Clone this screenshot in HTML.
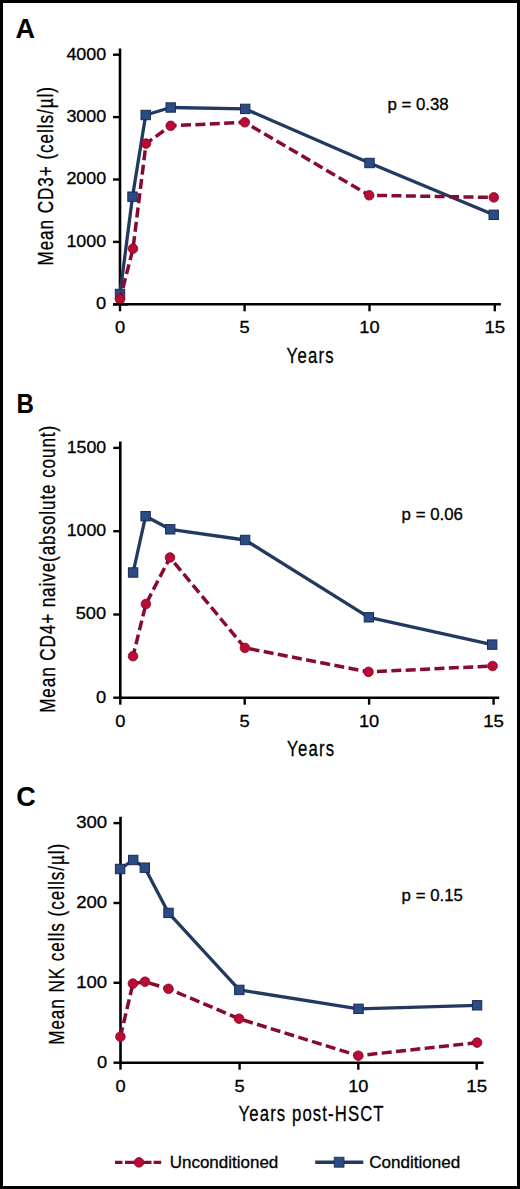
<!DOCTYPE html>
<html><head><meta charset="utf-8"><style>
html,body{margin:0;padding:0;background:#fff;}
.frame{position:absolute;left:0;top:0;width:520px;height:1189px;box-sizing:border-box;border:3px solid #000;background:#fff;}
svg{position:absolute;left:0;top:0;}
text{font-family:"Liberation Sans", sans-serif;fill:#000;stroke:#000;stroke-width:0.3px;}
text[font-weight="bold"]{stroke:none;}
</style></head><body>
<div class="frame"></div>
<svg width="520" height="1189" viewBox="0 0 520 1189">
<text x="15.5" y="37.6" font-size="27" font-weight="bold" text-anchor="start" >A</text>
<path d="M120 48.5 V304.3 H500.9" fill="none" stroke="#000" stroke-width="2.6"/>
<line x1="113" y1="54.7" x2="120" y2="54.7" stroke="#000" stroke-width="2.4"/>
<text x="106.2" y="59.6" font-size="16.8" font-weight="normal" text-anchor="end" textLength="39.8" lengthAdjust="spacingAndGlyphs" >4000</text>
<line x1="113" y1="117.1" x2="120" y2="117.1" stroke="#000" stroke-width="2.4"/>
<text x="106.2" y="122.0" font-size="16.8" font-weight="normal" text-anchor="end" textLength="39.8" lengthAdjust="spacingAndGlyphs" >3000</text>
<line x1="113" y1="179.5" x2="120" y2="179.5" stroke="#000" stroke-width="2.4"/>
<text x="106.2" y="184.4" font-size="16.8" font-weight="normal" text-anchor="end" textLength="39.8" lengthAdjust="spacingAndGlyphs" >2000</text>
<line x1="113" y1="241.9" x2="120" y2="241.9" stroke="#000" stroke-width="2.4"/>
<text x="106.2" y="246.8" font-size="16.8" font-weight="normal" text-anchor="end" textLength="39.8" lengthAdjust="spacingAndGlyphs" >1000</text>
<line x1="113" y1="304.3" x2="120" y2="304.3" stroke="#000" stroke-width="2.4"/>
<text x="106.2" y="309.2" font-size="16.8" font-weight="normal" text-anchor="end" textLength="10.2" lengthAdjust="spacingAndGlyphs" >0</text>
<line x1="120" y1="304.3" x2="120" y2="311.3" stroke="#000" stroke-width="2.4"/>
<text x="120" y="333.3" font-size="16.8" font-weight="normal" text-anchor="middle" textLength="10.2" lengthAdjust="spacingAndGlyphs" >0</text>
<line x1="244.6" y1="304.3" x2="244.6" y2="311.3" stroke="#000" stroke-width="2.4"/>
<text x="244.6" y="333.3" font-size="16.8" font-weight="normal" text-anchor="middle" textLength="10.2" lengthAdjust="spacingAndGlyphs" >5</text>
<line x1="369.5" y1="304.3" x2="369.5" y2="311.3" stroke="#000" stroke-width="2.4"/>
<text x="369.5" y="333.3" font-size="16.8" font-weight="normal" text-anchor="middle" textLength="20.3" lengthAdjust="spacingAndGlyphs" >10</text>
<line x1="494.8" y1="304.3" x2="494.8" y2="311.3" stroke="#000" stroke-width="2.4"/>
<text x="494.8" y="333.3" font-size="16.8" font-weight="normal" text-anchor="middle" textLength="20.8" lengthAdjust="spacingAndGlyphs" >15</text>
<text transform="translate(53.1,176.3) rotate(-90) scale(0.75,1)" x="0" y="0" font-size="22.8" text-anchor="middle" textLength="238.00" lengthAdjust="spacing">Mean CD3+ (cells/µl)</text>
<text transform="translate(286.6,362.6) scale(0.75,1)" x="0" y="0" font-size="22.3" textLength="62.67" lengthAdjust="spacing">Years</text>
<text x="387.4" y="109.8" font-size="16.4" font-weight="normal" text-anchor="start" textLength="61.3" lengthAdjust="spacingAndGlyphs" >p = 0.38</text>
<polyline points="120,294 132.5,196.7 145.7,115 170.7,107.5 245.2,108.9 369.5,163 493.7,214.8" fill="none" stroke="#24395f" stroke-width="3.3" stroke-linejoin="round"/>
<rect x="115.3" y="289.3" width="9.4" height="9.4" fill="#2b4b84" stroke="#1b2b56" stroke-width="1"/>
<rect x="127.8" y="192.0" width="9.4" height="9.4" fill="#2b4b84" stroke="#1b2b56" stroke-width="1"/>
<rect x="141.0" y="110.3" width="9.4" height="9.4" fill="#2b4b84" stroke="#1b2b56" stroke-width="1"/>
<rect x="166.0" y="102.8" width="9.4" height="9.4" fill="#2b4b84" stroke="#1b2b56" stroke-width="1"/>
<rect x="240.5" y="104.2" width="9.4" height="9.4" fill="#2b4b84" stroke="#1b2b56" stroke-width="1"/>
<rect x="364.8" y="158.3" width="9.4" height="9.4" fill="#2b4b84" stroke="#1b2b56" stroke-width="1"/>
<rect x="489.0" y="210.10000000000002" width="9.4" height="9.4" fill="#2b4b84" stroke="#1b2b56" stroke-width="1"/>
<polyline points="120,299.3 133,248.7 146,143.6 170.7,125.8 244.8,122.3 369.2,195.3 493.8,197.4" fill="none" stroke="#870b31" stroke-width="3.5" stroke-dasharray="10 4.4" stroke-dashoffset="2.7"/>
<circle cx="120" cy="299.3" r="4.8" fill="#ba0b34" stroke="#820824" stroke-width="0.8"/>
<circle cx="133" cy="248.7" r="4.8" fill="#ba0b34" stroke="#820824" stroke-width="0.8"/>
<circle cx="146" cy="143.6" r="4.8" fill="#ba0b34" stroke="#820824" stroke-width="0.8"/>
<circle cx="170.7" cy="125.8" r="4.8" fill="#ba0b34" stroke="#820824" stroke-width="0.8"/>
<circle cx="244.8" cy="122.3" r="4.8" fill="#ba0b34" stroke="#820824" stroke-width="0.8"/>
<circle cx="369.2" cy="195.3" r="4.8" fill="#ba0b34" stroke="#820824" stroke-width="0.8"/>
<circle cx="493.8" cy="197.4" r="4.8" fill="#ba0b34" stroke="#820824" stroke-width="0.8"/>
<path d="M113 304.3 H128" fill="none" stroke="#000" stroke-width="2.6"/>
<text x="16.6" y="412.7" font-size="27" font-weight="bold" text-anchor="start" textLength="17.4" lengthAdjust="spacingAndGlyphs" >B</text>
<path d="M120.3 441.5 V697.7 H499.2" fill="none" stroke="#000" stroke-width="2.6"/>
<line x1="113.3" y1="447.9" x2="120.3" y2="447.9" stroke="#000" stroke-width="2.4"/>
<text x="106.2" y="452.79999999999995" font-size="16.8" font-weight="normal" text-anchor="end" textLength="39.5" lengthAdjust="spacingAndGlyphs" >1500</text>
<line x1="113.3" y1="531.2" x2="120.3" y2="531.2" stroke="#000" stroke-width="2.4"/>
<text x="106.2" y="536.1" font-size="16.8" font-weight="normal" text-anchor="end" textLength="39.5" lengthAdjust="spacingAndGlyphs" >1000</text>
<line x1="113.3" y1="614.5" x2="120.3" y2="614.5" stroke="#000" stroke-width="2.4"/>
<text x="106.2" y="619.4" font-size="16.8" font-weight="normal" text-anchor="end" textLength="30.5" lengthAdjust="spacingAndGlyphs" >500</text>
<line x1="113.3" y1="697.7" x2="120.3" y2="697.7" stroke="#000" stroke-width="2.4"/>
<text x="106.2" y="702.6" font-size="16.8" font-weight="normal" text-anchor="end" textLength="10.2" lengthAdjust="spacingAndGlyphs" >0</text>
<line x1="120.3" y1="697.7" x2="120.3" y2="704.7" stroke="#000" stroke-width="2.4"/>
<text x="120.3" y="726.7" font-size="16.8" font-weight="normal" text-anchor="middle" textLength="10.2" lengthAdjust="spacingAndGlyphs" >0</text>
<line x1="244.7" y1="697.7" x2="244.7" y2="704.7" stroke="#000" stroke-width="2.4"/>
<text x="244.7" y="726.7" font-size="16.8" font-weight="normal" text-anchor="middle" textLength="10.2" lengthAdjust="spacingAndGlyphs" >5</text>
<line x1="369.1" y1="697.7" x2="369.1" y2="704.7" stroke="#000" stroke-width="2.4"/>
<text x="369.1" y="726.7" font-size="16.8" font-weight="normal" text-anchor="middle" textLength="20.3" lengthAdjust="spacingAndGlyphs" >10</text>
<line x1="493.6" y1="697.7" x2="493.6" y2="704.7" stroke="#000" stroke-width="2.4"/>
<text x="493.6" y="726.7" font-size="16.8" font-weight="normal" text-anchor="middle" textLength="20.8" lengthAdjust="spacingAndGlyphs" >15</text>
<text transform="translate(54.7,569.3) rotate(-90) scale(0.75,1)" x="0" y="0" font-size="22.8" text-anchor="middle" textLength="382.67" lengthAdjust="spacing">Mean CD4+ naive(absolute count)</text>
<text transform="translate(287.1,756.2) scale(0.75,1)" x="0" y="0" font-size="22.3" textLength="62.67" lengthAdjust="spacing">Years</text>
<text x="401.6" y="520.3" font-size="16.4" font-weight="normal" text-anchor="start" textLength="61.3" lengthAdjust="spacingAndGlyphs" >p = 0.06</text>
<polyline points="133.1,572.5 145.6,516.2 170.2,529.3 245.1,540 368.9,617.3 492.2,644.6" fill="none" stroke="#24395f" stroke-width="3.3" stroke-linejoin="round"/>
<rect x="128.4" y="567.8" width="9.4" height="9.4" fill="#2b4b84" stroke="#1b2b56" stroke-width="1"/>
<rect x="140.9" y="511.50000000000006" width="9.4" height="9.4" fill="#2b4b84" stroke="#1b2b56" stroke-width="1"/>
<rect x="165.5" y="524.5999999999999" width="9.4" height="9.4" fill="#2b4b84" stroke="#1b2b56" stroke-width="1"/>
<rect x="240.4" y="535.3" width="9.4" height="9.4" fill="#2b4b84" stroke="#1b2b56" stroke-width="1"/>
<rect x="364.2" y="612.5999999999999" width="9.4" height="9.4" fill="#2b4b84" stroke="#1b2b56" stroke-width="1"/>
<rect x="487.5" y="639.9" width="9.4" height="9.4" fill="#2b4b84" stroke="#1b2b56" stroke-width="1"/>
<polyline points="133,656.2 145.9,604 170,557.5 244.9,647.9 368.5,671.9 492.6,666" fill="none" stroke="#870b31" stroke-width="3.5" stroke-dasharray="10 4.4" stroke-dashoffset="2.1"/>
<circle cx="133" cy="656.2" r="4.8" fill="#ba0b34" stroke="#820824" stroke-width="0.8"/>
<circle cx="145.9" cy="604" r="4.8" fill="#ba0b34" stroke="#820824" stroke-width="0.8"/>
<circle cx="170" cy="557.5" r="4.8" fill="#ba0b34" stroke="#820824" stroke-width="0.8"/>
<circle cx="244.9" cy="647.9" r="4.8" fill="#ba0b34" stroke="#820824" stroke-width="0.8"/>
<circle cx="368.5" cy="671.9" r="4.8" fill="#ba0b34" stroke="#820824" stroke-width="0.8"/>
<circle cx="492.6" cy="666" r="4.8" fill="#ba0b34" stroke="#820824" stroke-width="0.8"/>
<text x="16.3" y="806" font-size="27" font-weight="bold" text-anchor="start" >C</text>
<path d="M120.5 816.7 V1062.7 H483.6" fill="none" stroke="#000" stroke-width="2.6"/>
<line x1="113.5" y1="823.1" x2="120.5" y2="823.1" stroke="#000" stroke-width="2.4"/>
<text x="107.2" y="828.0" font-size="16.8" font-weight="normal" text-anchor="end" textLength="31" lengthAdjust="spacingAndGlyphs" >300</text>
<line x1="113.5" y1="903" x2="120.5" y2="903" stroke="#000" stroke-width="2.4"/>
<text x="107.2" y="907.9" font-size="16.8" font-weight="normal" text-anchor="end" textLength="31" lengthAdjust="spacingAndGlyphs" >200</text>
<line x1="113.5" y1="982.8" x2="120.5" y2="982.8" stroke="#000" stroke-width="2.4"/>
<text x="107.2" y="987.6999999999999" font-size="16.8" font-weight="normal" text-anchor="end" textLength="31" lengthAdjust="spacingAndGlyphs" >100</text>
<line x1="113.5" y1="1062.7" x2="120.5" y2="1062.7" stroke="#000" stroke-width="2.4"/>
<text x="107.2" y="1067.6000000000001" font-size="16.8" font-weight="normal" text-anchor="end" textLength="10.2" lengthAdjust="spacingAndGlyphs" >0</text>
<line x1="120.5" y1="1062.7" x2="120.5" y2="1069.7" stroke="#000" stroke-width="2.4"/>
<text x="120.5" y="1091.7" font-size="16.8" font-weight="normal" text-anchor="middle" textLength="10.2" lengthAdjust="spacingAndGlyphs" >0</text>
<line x1="239.6" y1="1062.7" x2="239.6" y2="1069.7" stroke="#000" stroke-width="2.4"/>
<text x="239.6" y="1091.7" font-size="16.8" font-weight="normal" text-anchor="middle" textLength="10.2" lengthAdjust="spacingAndGlyphs" >5</text>
<line x1="358.3" y1="1062.7" x2="358.3" y2="1069.7" stroke="#000" stroke-width="2.4"/>
<text x="358.3" y="1091.7" font-size="16.8" font-weight="normal" text-anchor="middle" textLength="20.3" lengthAdjust="spacingAndGlyphs" >10</text>
<line x1="476.7" y1="1062.7" x2="476.7" y2="1069.7" stroke="#000" stroke-width="2.4"/>
<text x="476.7" y="1091.7" font-size="16.8" font-weight="normal" text-anchor="middle" textLength="20.8" lengthAdjust="spacingAndGlyphs" >15</text>
<text transform="translate(63.7,944.3) rotate(-90) scale(0.75,1)" x="0" y="0" font-size="22.8" text-anchor="middle" textLength="268.00" lengthAdjust="spacing">Mean NK cells (cells/µl)</text>
<text transform="translate(238.6,1121.2) scale(0.75,1)" x="0" y="0" font-size="22.3" textLength="193.33" lengthAdjust="spacing">Years post-HSCT</text>
<text x="401.6" y="900.6" font-size="16.4" font-weight="normal" text-anchor="start" textLength="61.3" lengthAdjust="spacingAndGlyphs" >p = 0.15</text>
<polyline points="120.1,869 133.2,860 144.8,867.7 168.5,912.9 239.3,989.9 358.5,1008.8 477.1,1005.3" fill="none" stroke="#24395f" stroke-width="3.3" stroke-linejoin="round"/>
<rect x="115.39999999999999" y="864.3" width="9.4" height="9.4" fill="#2b4b84" stroke="#1b2b56" stroke-width="1"/>
<rect x="128.5" y="855.3" width="9.4" height="9.4" fill="#2b4b84" stroke="#1b2b56" stroke-width="1"/>
<rect x="140.10000000000002" y="863.0" width="9.4" height="9.4" fill="#2b4b84" stroke="#1b2b56" stroke-width="1"/>
<rect x="163.8" y="908.1999999999999" width="9.4" height="9.4" fill="#2b4b84" stroke="#1b2b56" stroke-width="1"/>
<rect x="234.60000000000002" y="985.1999999999999" width="9.4" height="9.4" fill="#2b4b84" stroke="#1b2b56" stroke-width="1"/>
<rect x="353.8" y="1004.0999999999999" width="9.4" height="9.4" fill="#2b4b84" stroke="#1b2b56" stroke-width="1"/>
<rect x="472.40000000000003" y="1000.5999999999999" width="9.4" height="9.4" fill="#2b4b84" stroke="#1b2b56" stroke-width="1"/>
<polyline points="120.4,1036.7 132.9,983.6 145,981.7 168.5,988.8 239,1018.7 358.3,1055.7 477.1,1042.6" fill="none" stroke="#870b31" stroke-width="3.5" stroke-dasharray="10 4.4" stroke-dashoffset="0.4"/>
<circle cx="120.4" cy="1036.7" r="4.8" fill="#ba0b34" stroke="#820824" stroke-width="0.8"/>
<circle cx="132.9" cy="983.6" r="4.8" fill="#ba0b34" stroke="#820824" stroke-width="0.8"/>
<circle cx="145" cy="981.7" r="4.8" fill="#ba0b34" stroke="#820824" stroke-width="0.8"/>
<circle cx="168.5" cy="988.8" r="4.8" fill="#ba0b34" stroke="#820824" stroke-width="0.8"/>
<circle cx="239" cy="1018.7" r="4.8" fill="#ba0b34" stroke="#820824" stroke-width="0.8"/>
<circle cx="358.3" cy="1055.7" r="4.8" fill="#ba0b34" stroke="#820824" stroke-width="0.8"/>
<circle cx="477.1" cy="1042.6" r="4.8" fill="#ba0b34" stroke="#820824" stroke-width="0.8"/>
<path d="M115 1162.4 H122.5 M125 1162.4 H151.5 M153.6 1162.4 H161.2" stroke="#870b31" stroke-width="3.4" fill="none"/>
<circle cx="139" cy="1162.4" r="4.8" fill="#ba0b34" stroke="#820824" stroke-width="0.8"/>
<text x="169.7" y="1167.9" font-size="17" font-weight="normal" text-anchor="start" textLength="108.6" lengthAdjust="spacingAndGlyphs" >Unconditioned</text>
<line x1="315.2" y1="1162.2" x2="363.3" y2="1162.2" stroke="#24395f" stroke-width="3.4"/>
<rect x="334.2" y="1157.2" width="9.8" height="10" fill="#2b4b84" stroke="#1b2b56" stroke-width="0.8"/>
<text x="369.2" y="1167.7" font-size="17" font-weight="normal" text-anchor="start" textLength="91.2" lengthAdjust="spacingAndGlyphs" >Conditioned</text>
</svg>
</body></html>
